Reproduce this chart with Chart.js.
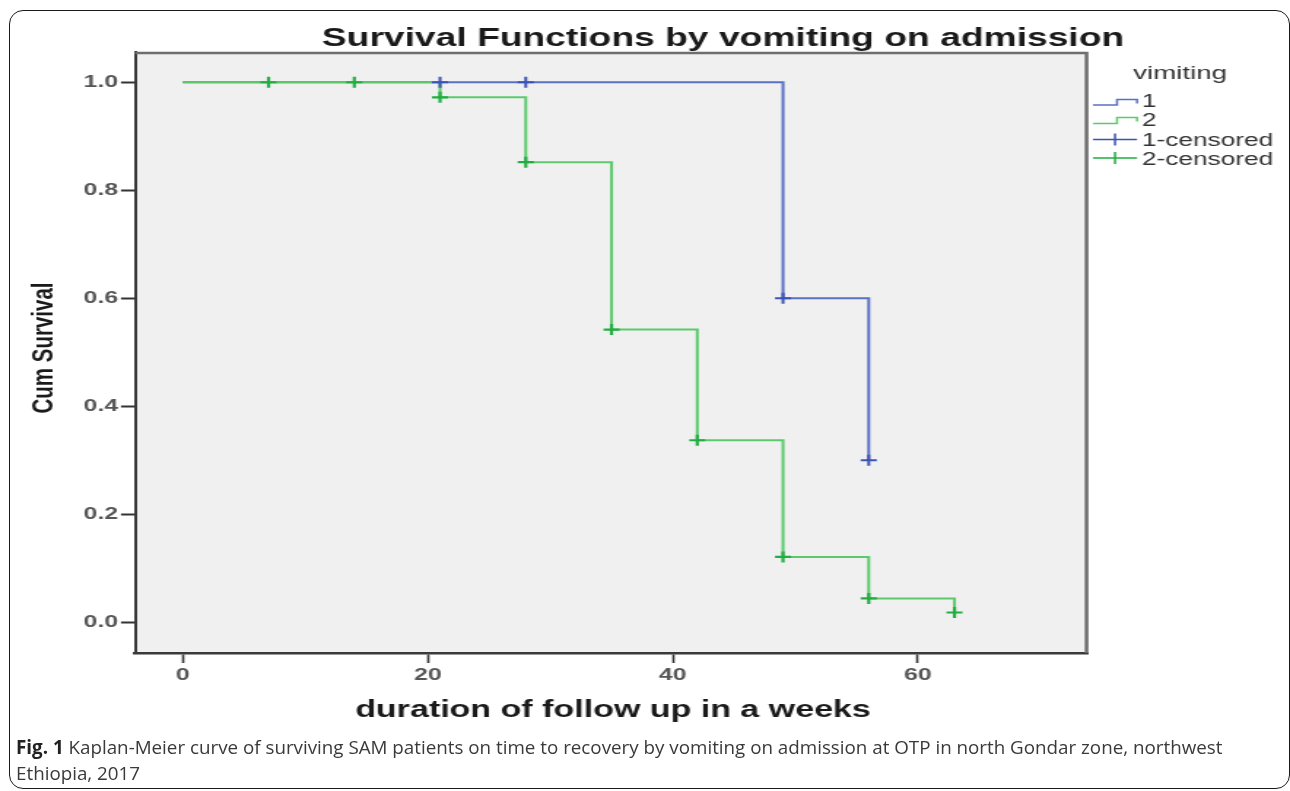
<!DOCTYPE html>
<html><head><meta charset="utf-8">
<script src="https://cdn.jsdelivr.net/npm/chart.js@4"></script>
<style>
html,body{margin:0;padding:0;background:#fff;width:1290px;height:791px;overflow:hidden;}
#frame{position:absolute;left:9px;top:10px;width:1279px;height:777px;border:1.5px solid #1b1b1b;border-radius:14px;}
#wrap{position:absolute;left:0;top:0;width:884px;height:791px;transform:scaleX(1.45928);transform-origin:0 0;}
#caption{position:absolute;left:16px;top:734px;font-family:"Open Sans",sans-serif;font-size:18.8px;line-height:26px;color:#3a3a3a;white-space:nowrap;}
#caption b{color:#222;font-weight:700;}
</style></head><body>
<div id="frame"></div>
<div id="wrap"><canvas id="c" width="884" height="791"></canvas></div>
<div id="caption"><b>Fig. 1</b> Kaplan-Meier curve of surviving SAM patients on time to recovery by vomiting on admission at OTP in north Gondar zone, northwest<br>Ethiopia, 2017</div>
<script>
// ---- data ----
const group1Time = [0, 49, 56];
const group1Surv = [1.0, 0.6, 0.3];
const group2Time = [0, 21, 28, 35, 42, 49, 56, 63];
const group2Surv = [1.0, 0.972, 0.852, 0.542, 0.337, 0.121, 0.044, 0.018];
const cens1Time = [21, 28, 49, 56];
const cens1Surv = [1.0, 1.0, 0.6, 0.3];
const cens2Time = [7, 14, 21, 28, 35, 42, 49, 56, 63];
const cens2Surv = [1.0, 1.0, 0.972, 0.852, 0.542, 0.337, 0.121, 0.044, 0.018];
const xTicks = [0, 20, 40, 60];
const yTicks = [0.0, 0.2, 0.4, 0.6, 0.8, 1.0];
const seriesNames = ['1', '2', '1-censored', '2-censored'];
const legendTitle = 'vimiting';
const chartTitle = 'Survival Functions by vomiting on admission';
const xTitle = 'duration of follow up in a weeks';
const yTitle = 'Cum Survival';

// ---- styling ----
const S = 1290 / 884;
const blueLine = '#5a6fc6', blueMark = '#3c52b4';
const greenLine = '#5cc96c', greenMark = '#22ad40';
const FONT = '"Liberation Sans", Arial, sans-serif';

const pts = (xs, ys) => xs.map((x, i) => ({x: x, y: ys[i]}));

const plotBg = {
  id: 'plotBg',
  beforeDraw(chart) {
    const {ctx, chartArea: a} = chart;
    ctx.save();
    ctx.fillStyle = '#f0f0f0';
    ctx.fillRect(a.left, a.top, a.right - a.left, a.bottom - a.top);
    ctx.restore();
  },
  beforeDatasetsDraw(chart) {
    const {ctx, chartArea: a} = chart;
    ctx.save();
    ctx.strokeStyle = '#6e6e6e';
    ctx.lineWidth = 2.5;
    ctx.beginPath();
    ctx.moveTo(a.left, a.top + 1);
    ctx.lineTo(a.right - 1, a.top + 1);
    ctx.lineTo(a.right - 1, a.bottom);
    ctx.stroke();
    ctx.restore();
  }
};

const texts = {
  id: 'texts',
  afterDraw(chart) {
    const ctx = chart.ctx;
    ctx.save();
    ctx.fillStyle = '#1a1a1a';
    ctx.textAlign = 'center';
    ctx.textBaseline = 'alphabetic';
    ctx.font = 'bold 25.5px ' + FONT;
    ctx.fillText(chartTitle, 723 / S, 46);
    ctx.font = 'bold 23.3px ' + FONT;
    ctx.fillText(xTitle, 613 / S, 717);
    ctx.save();
    ctx.translate(53 / S, 348);
    ctx.rotate(-Math.PI / 2);
    ctx.font = 'bold 20.5px ' + FONT;
    ctx.fillText(yTitle, 0, 0);
    ctx.restore();

    // legend
    ctx.textAlign = 'left';
    ctx.fillStyle = '#333';
    ctx.font = '19px ' + FONT;
    ctx.fillText(legendTitle, 1133 / S, 79);
    ctx.font = '18px ' + FONT;
    const bases = [107, 126, 146, 165];
    seriesNames.forEach((n, i) => ctx.fillText(n, 1142 / S, bases[i]));
    ctx.lineWidth = 1.5;
    const step = (c, yl, yh, ye) => {
      ctx.strokeStyle = c;
      ctx.beginPath();
      ctx.moveTo(1093 / S, yl); ctx.lineTo(1117 / S, yl); ctx.lineTo(1117 / S, yh);
      ctx.lineTo(1137 / S, yh); ctx.lineTo(1137 / S, ye);
      ctx.stroke();
    };
    const cens = (c, y) => {
      ctx.strokeStyle = c;
      ctx.beginPath();
      ctx.moveTo(1093 / S, y); ctx.lineTo(1137 / S, y);
      ctx.moveTo(1115 / S, y - 6); ctx.lineTo(1115 / S, y + 6);
      ctx.stroke();
    };
    step(blueLine, 105, 99.5, 103.5);
    step(greenLine, 123.5, 117.5, 121.5);
    cens(blueMark, 139.5);
    cens(greenMark, 158);
    ctx.restore();
  }
};

new Chart(document.getElementById('c'), {
  type: 'scatter',
  data: {
    datasets: [
      {label: seriesNames[0], data: pts(group1Time, group1Surv), showLine: true, stepped: true,
       borderColor: blueLine, borderWidth: 2, pointRadius: 0, order: 3},
      {label: seriesNames[1], data: pts(group2Time, group2Surv), showLine: true, stepped: true,
       borderColor: greenLine, borderWidth: 2, pointRadius: 0, order: 2},
      {label: seriesNames[2], data: pts(cens1Time, cens1Surv), showLine: false,
       pointStyle: 'cross', pointRadius: 5.5, pointBorderWidth: 2, borderColor: blueMark, backgroundColor: blueMark, order: 1},
      {label: seriesNames[3], data: pts(cens2Time, cens2Surv), showLine: false,
       pointStyle: 'cross', pointRadius: 5.5, pointBorderWidth: 2.2, borderColor: greenMark, backgroundColor: greenMark, order: 0}
    ]
  },
  options: {
    responsive: false,
    animation: false,
    devicePixelRatio: 1,
    layout: {padding: {left: 0, top: 52, right: 884 - 1088 / S, bottom: 0}},
    plugins: {legend: {display: false}, title: {display: false}, tooltip: {enabled: false}},
    scales: {
      x: {
        type: 'linear', min: -3.9, max: 73.9,
        afterBuildTicks: s => { s.ticks = xTicks.map(v => ({value: v})); },
        afterFit: s => { s.height = 138; },
        grid: {drawOnChartArea: false, drawTicks: true, tickLength: 10, tickWidth: 1.6, tickColor: '#333'},
        border: {display: true, color: '#3a3a3a', width: 2.5},
        ticks: {font: {family: FONT, size: 17, weight: 'bold'}, color: '#555', padding: 2, maxRotation: 0, autoSkip: false,
                callback: v => String(v)}
      },
      y: {
        type: 'linear', min: -0.057, max: 1.056,
        afterBuildTicks: s => { s.ticks = yTicks.map(v => ({value: v})); },
        afterFit: s => { s.width = 135 / S; },
        grid: {drawOnChartArea: false, drawTicks: true, tickLength: 9.6, tickWidth: 2, tickColor: '#333'},
        border: {display: true, color: '#3a3a3a', width: 2},
        ticks: {font: {family: FONT, size: 17, weight: 'bold'}, color: '#555', padding: 2,
                callback: v => Number(v).toFixed(1)}
      }
    }
  },
  plugins: [plotBg, texts]
});
</script>
</body></html>
